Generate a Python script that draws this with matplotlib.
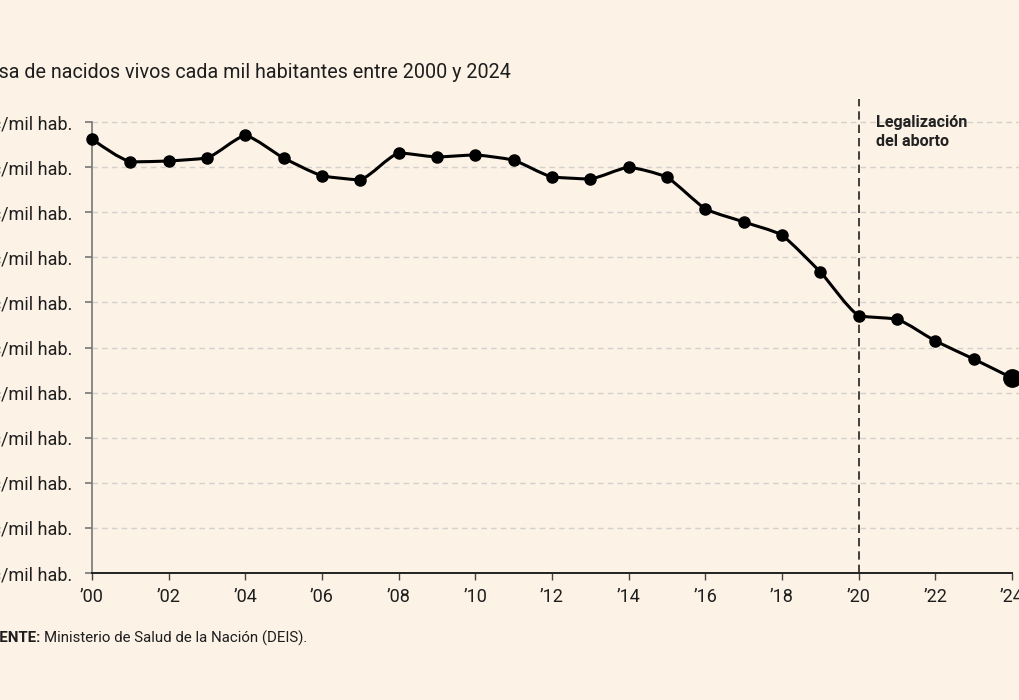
import numpy as np
import matplotlib.pyplot as plt
from matplotlib.path import Path
from matplotlib.patches import PathPatch

# tasa de natalidad (nacidos vivos cada mil habitantes), Argentina
years = [2000, 2001, 2002, 2003, 2004, 2005, 2006, 2007, 2008, 2009, 2010, 2011, 2012,
         2013, 2014, 2015, 2016, 2017, 2018, 2019, 2020, 2021, 2022, 2023, 2024]
rate = [19.25, 18.23, 18.27, 18.40, 19.42, 18.40, 17.61, 17.43, 18.63, 18.45, 18.54, 18.31, 17.56,
        17.47, 18.00, 17.56, 16.14, 15.57, 14.99, 13.35, 11.40, 11.26, 10.29, 9.49, 8.65]

ytick_vals = [0, 2, 4, 6, 8, 10, 12, 14, 16, 18, 20]
ytick_labels = [f"{v} nac/mil hab." for v in ytick_vals]
xtick_vals = list(range(2000, 2025, 2))
xtick_labels = [f"\u2019{v % 100:02d}" for v in xtick_vals]

bg = '#fcf2e6'
plt.rcParams['font.family'] = ['Roboto', 'DejaVu Sans']


def soft_path(x, y, k=0.4):
    # linea suavizada: mezcla de tangentes monotonas y rectas
    x = np.asarray(x, float)
    y = np.asarray(y, float)
    h = np.diff(x)
    s = np.diff(y) / h
    n = len(x)
    t = np.zeros(n)
    for i in range(1, n - 1):
        p = (s[i - 1] * h[i] + s[i] * h[i - 1]) / (h[i - 1] + h[i])
        t[i] = (np.sign(s[i - 1]) + np.sign(s[i])) * min(abs(s[i - 1]), abs(s[i]), 0.5 * abs(p))
    t[0] = (3 * s[0] - t[1]) / 2
    t[-1] = (3 * s[-1] - t[-2]) / 2
    verts = [(x[0], y[0])]
    codes = [Path.MOVETO]
    for i in range(n - 1):
        d = h[i] / 3
        a = k * t[i] + (1 - k) * s[i]
        b = k * t[i + 1] + (1 - k) * s[i]
        verts += [(x[i] + d, y[i] + a * d), (x[i + 1] - d, y[i + 1] - b * d), (x[i + 1], y[i + 1])]
        codes += [Path.CURVE4] * 3
    return Path(verts, codes)


fig = plt.figure(figsize=(10.2, 7.0), dpi=100, facecolor=bg)
ax = fig.add_axes([92/1020, 1 - 573/700, (1012 - 92)/1020, (573 - 122)/700])
ax.set_facecolor(bg)

ax.set_xlim(2000, 2024)
ax.set_ylim(0, 20)

# grid
for v in ytick_vals[1:]:
    ax.axhline(v, color='#d4d0cb', lw=1, ls=(0, (4, 3)), zorder=1, xmax=1.02, clip_on=False)

# linea vertical 2020
ax.plot([2020, 2020], [0, 21.0], color='#222222', lw=1.2, ls=(0, (5, 3)), zorder=2, clip_on=False)
ax.text(2020.45, 20.3, "Legalizaci\u00f3n\ndel aborto", fontsize=11.6, fontweight='bold',
        color='#222222', va='top', ha='left', linespacing=1.3)

ax.add_patch(PathPatch(soft_path(years, rate), fill=False, edgecolor='black', lw=2.2,
                       zorder=3, clip_on=False))
ax.plot(years[:-1], rate[:-1], 'o', color='black', ms=8, zorder=4, clip_on=False)
ax.plot(years[-1:], rate[-1:], 'o', color='black', ms=12.5, zorder=4, clip_on=False)

for s in ['top', 'right']:
    ax.spines[s].set_visible(False)
ax.spines['left'].set_color('#777777')
ax.spines['left'].set_linewidth(1.2)
ax.spines['bottom'].set_color('#222222')
ax.spines['bottom'].set_linewidth(1.4)

ax.set_yticks(ytick_vals)
ax.set_yticklabels(ytick_labels)
ax.set_xticks(xtick_vals)
ax.set_xticklabels(xtick_labels)
ax.tick_params(axis='y', length=5, width=1.2, color='#777777', pad=9, labelsize=13, labelcolor='#1e1e1e')
ax.tick_params(axis='x', length=5, width=1, color='#444444', pad=6, labelsize=13, labelcolor='#1e1e1e')

# titulo y fuente (recortados a la izquierda como en el original)
fig.text(-0.024, 1 - 72/700, "Tasa de nacidos vivos cada mil habitantes entre 2000 y 2024",
         fontsize=14.2, color='#1e1e1e', va='center', ha='left')
fig.text(40/1020, 1 - 638/700, "FUENTE:", fontsize=10.8, fontweight='bold', color='#1e1e1e',
         va='center', ha='right')
fig.text(44/1020, 1 - 638/700, "Ministerio de Salud de la Naci\u00f3n (DEIS).",
         fontsize=10.8, color='#1e1e1e', va='center', ha='left')

fig.savefig('out.png', dpi=100, facecolor=bg)
